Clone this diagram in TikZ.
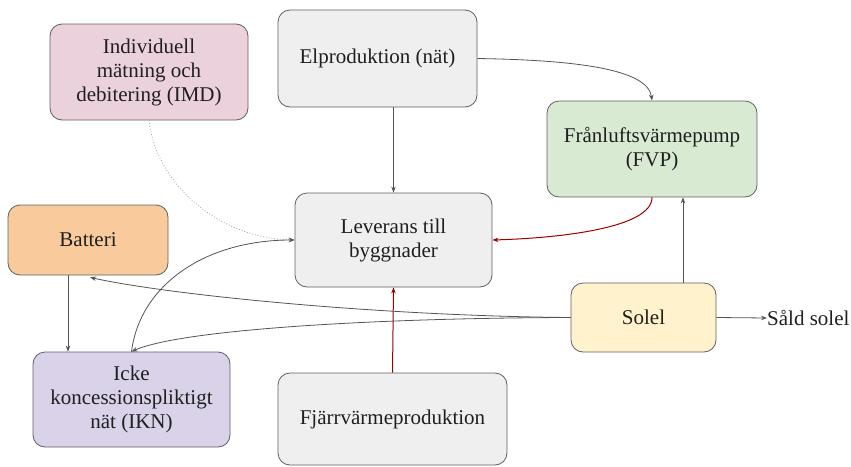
\documentclass[tikz,border=0pt]{standalone}
\usepackage{fontspec}
\setmainfont{Liberation Serif}
\usetikzlibrary{arrows.meta,calc}
\definecolor{grayfill}{HTML}{EFEFEF}
\definecolor{imdfill}{HTML}{EAD1DC}
\definecolor{fvpfill}{HTML}{D9EAD3}
\definecolor{batfill}{HTML}{F9CB9C}
\definecolor{iknfill}{HTML}{D9D2E9}
\definecolor{solfill}{HTML}{FFF2CC}
\definecolor{boxline}{HTML}{5F5F5F}
\definecolor{conn}{HTML}{555555}
\definecolor{redconn}{HTML}{990000}
\definecolor{dotconn}{HTML}{A0A0A0}
\definecolor{txt}{HTML}{1F1F1F}
\begin{document}
\begin{tikzpicture}[x=1pt,y=-1pt,
  box/.style={draw=boxline, line width=0.8pt, rounded corners=12pt, align=center,
    inner sep=0pt, text=txt, font=\fontsize{21}{24}\selectfont},
  conarrow/.style={draw=conn, line width=0.8pt, -{Stealth[length=6pt,width=4.5pt]}},
  redarrow/.style={draw=redconn, line width=1pt, -{Stealth[length=6pt,width=4.5pt]}},
  dotarrow/.style={draw=dotconn, line width=0.8pt, dotted, -{Stealth[length=6pt,width=4.5pt]}}]
\useasboundingbox (0,0) rectangle (851,466);

\node[box, fill=imdfill, minimum width=198pt, minimum height=96pt] (imd) at (149,72)
  {Individuell\\mätning och\\debitering (IMD)};
\node[box, fill=grayfill, minimum width=199pt, minimum height=97pt] (elp) at (377.5,58.5)
  {Elproduktion (nät)};
\node[box, fill=fvpfill, minimum width=210pt, minimum height=96pt] (fvp) at (652,149)
  {Frånluftsvärmepump\\(FVP)};
\node[box, fill=grayfill, minimum width=197pt, minimum height=94pt] (lev) at (393.5,240)
  {Leverans till\\byggnader};
\node[box, fill=batfill, minimum width=160pt, minimum height=70pt] (bat) at (88,240)
  {Batteri};
\node[box, fill=iknfill, minimum width=197pt, minimum height=95pt] (ikn) at (131.5,399.5)
  {Icke\\koncessionspliktigt\\nät (IKN)};
\node[box, fill=solfill, minimum width=145pt, minimum height=69pt] (sol) at (643.5,317.5)
  {Solel};
\node[box, fill=grayfill, minimum width=229pt, minimum height=92pt] (fjv) at (392.5,419)
  {Fjärrvärmeproduktion};
\node[anchor=west, inner sep=0pt, text=txt, font=\fontsize{21}{24}\selectfont] (sald) at (767,318)
  {Såld solel};

% Elproduktion -> Leverans
\draw[conarrow] (lev.north |- elp.south) -- (lev.north);
% Elproduktion -> FVP
\draw[conarrow] (elp.east) .. controls (570,60) and (648,68) .. (fvp.north);
% FVP -> Leverans (red)
\draw[redarrow] (fvp.south) .. controls (652,228) and (560,238) .. (lev.east);
% Solel -> FVP
\coordinate (solN) at ($(sol.north)+(39.5,0)$);
\draw[conarrow] (solN) -- (solN |- fvp.south);
% Fjärrvärme -> Leverans (red)
\draw[redarrow] (fjv.north) -- (lev.south);
% IMD -> Leverans (dotted)
\draw[dotarrow] (imd.south) .. controls (155,180) and (215,238) .. (lev.west);
% IKN -> Leverans
\draw[conarrow] (ikn.north) .. controls (140,285) and (205,240) .. (lev.west);
% Batteri -> IKN
\coordinate (batS) at ($(bat.south)+(-20,0)$);
\draw[conarrow] (batS) -- (batS |- ikn.north);
% Solel -> Batteri
\draw[conarrow] (sol.west) .. controls (380,316) and (170,295) .. ($(bat.south)+(2,2)$);
% Solel -> IKN
\draw[conarrow] (sol.west) .. controls (370,318) and (180,330) .. (ikn.north);
% Solel -> Såld solel
\draw[conarrow] (sol.east) -- (sald.west);
\end{tikzpicture}
\end{document}
